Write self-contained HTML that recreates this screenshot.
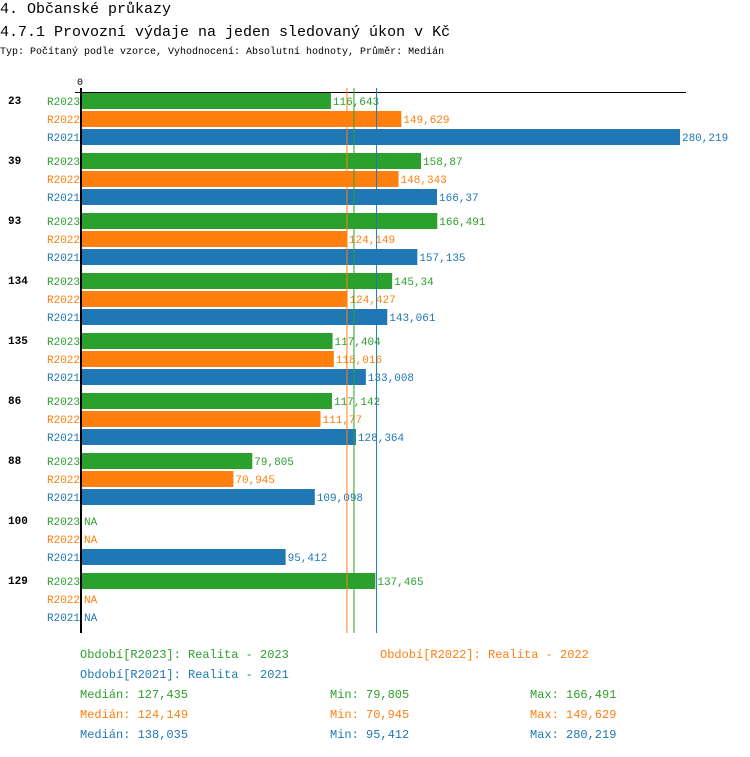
<!DOCTYPE html>
<html><head><meta charset="utf-8"><style>
body{margin:0;background:#fff;width:750px;height:752px;overflow:hidden;font-family:"Liberation Mono",monospace}
svg text{font-family:"Liberation Mono",monospace}
</style></head><body>
<svg id="c" width="750" height="752">
<text x="0" y="13" font-size="15">4. Občanské průkazy</text>
<text x="0" y="36" font-size="15">4.7.1 Provozní výdaje na jeden sledovaný úkon v Kč</text>
<text x="0" y="54" font-size="10">Typ: Počítaný podle vzorce, Vyhodnocení: Absolutní hodnoty, Průměr: Medián</text>
<text x="77" y="85" font-size="10">0</text>
<line x1="75" y1="92.5" x2="686" y2="92.5" stroke="#000" stroke-width="1"/>
<g id="bars"></g>
<line x1="81" y1="88" x2="81" y2="633" stroke="#000" stroke-width="2"/>
<g id="legend" font-size="12">
<text x="80" y="658" fill="#2ca02c">Období[R2023]: Realita - 2023</text>
<text x="380" y="658" fill="#ff7f0e">Období[R2022]: Realita - 2022</text>
<text x="80" y="678" fill="#1f77b4">Období[R2021]: Realita - 2021</text>
</g>
</svg>
<script>
const groups=["23","39","93","134","135","86","88","100","129"];
const series=["R2023","R2022","R2021"];
const colors=["#2ca02c","#ff7f0e","#1f77b4"];
const v2023=[116.643,158.87,166.491,145.34,117.404,117.142,79.805,null,137.465];
const v2022=[149.629,148.343,124.149,124.427,118.016,111.77,70.945,null,null];
const v2021=[280.219,166.37,157.135,143.061,133.008,128.364,109.098,95.412,null];
const medians=[127.435,124.149,138.035];
const mins=[79.805,70.945,95.412];
const maxs=[166.491,149.629,280.219];
const vals=[v2023,v2022,v2021];
const NS="http://www.w3.org/2000/svg";
const x0=82,k=2.134;
const xs=v=>x0+v*k;
const fmt=v=>String(v).replace('.',',');
const g=document.getElementById('bars');
function mk(t,a){const e=document.createElementNS(NS,t);for(const p in a)e.setAttribute(p,a[p]);return e;}
groups.forEach((gn,i)=>{
  const top=92+60*i;
  const gl=mk('text',{x:8,y:top+12,'font-size':11,'font-weight':'bold'});
  gl.textContent=gn;
  
  
  g.appendChild(gl);
  series.forEach((s,j)=>{
    const y=top+1+18*j;
    const sl=mk('text',{x:47,y:y+12,'font-size':11,fill:colors[j]});
    sl.textContent=s;
    
    
    g.appendChild(sl);
    const v=vals[j][i];
    let lx=x0+2;
    if(v!==null){
      const r=mk('rect',{x:x0,y:y,width:xs(v)-x0,height:16,fill:colors[j]});
      
      
      g.appendChild(r);
      lx=xs(v)+2;
    }
    const vl=mk('text',{x:lx,y:y+12,'font-size':11,fill:colors[j]});
    vl.textContent=v===null?'NA':fmt(v);
    
    
    g.appendChild(vl);
  });
});
medians.forEach((m,j)=>{
  const l=mk('line',{x1:xs(m),x2:xs(m),y1:88,y2:633,stroke:colors[j],'stroke-width':1});
  
  
  g.appendChild(l);
});
const lg=document.getElementById('legend');
series.forEach((s,j)=>{
  const y=698+20*j;
  [['Medián: '+fmt(medians[j]),80,'median'],['Min: '+fmt(mins[j]),330,'min'],['Max: '+fmt(maxs[j]),530,'max']].forEach(([t,x,n])=>{
    const e=mk('text',{x:x,y:y,fill:colors[j]});
    e.textContent=t;
    
    
    lg.appendChild(e);
  });
});
</script>
</body></html>
